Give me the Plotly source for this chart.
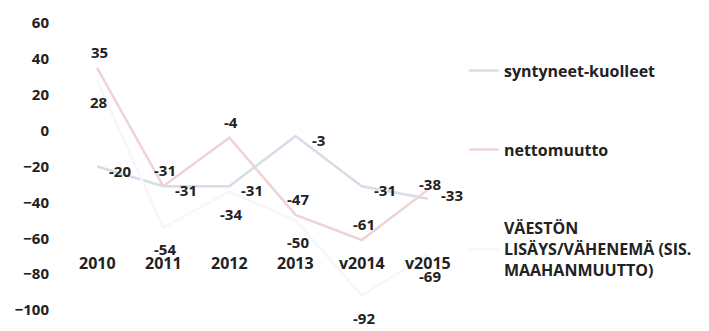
import plotly.graph_objects as go

# Vuodet / kategoriat
years = ["2010", "2011", "2012", "2013", "v2014", "v2015"]

# Sarjat
syntyneet_kuolleet = [-20, -31, -31, -3, -31, -38]
nettomuutto = [35, -31, -4, -47, -61, -33]
vaeston_muutos = [28, -54, -34, -50, -92, -69]

y_ticks = [60, 40, 20, 0, -20, -40, -60, -80, -100]

names = [
    "syntyneet-kuolleet",
    "nettomuutto",
    "VÄESTÖN<br>LISÄYS/VÄHENEMÄ (SIS.<br>MAAHANMUUTTO)",
]
colors = ["#d5dde7", "#efd3d7", "#f8f6f9"]

FONT = "Open Sans"
INK = "#222222"
lbl_font = dict(family=FONT, size=15, color=INK, weight="bold")

series = [syntyneet_kuolleet, nettomuutto, vaeston_muutos]

fig = go.Figure()
for i, (vals, nm, col) in enumerate(zip(series, names, colors)):
    fig.add_trace(go.Scatter(
        x=list(range(len(years))), y=vals, name=nm, legendgroup=f"g{i}",
        mode="lines", line=dict(color=col, width=2.5),
    ))

# Arvoselitteet: syntyneet-kuolleet oikealla, nettomuutto yläpuolella,
# väestön muutos alapuolella; viimeisen vuoden kaksi ensimmäistä vaihtavat puolta
def label_shift(series_idx, point_idx):
    last = point_idx == len(years) - 1
    if series_idx == 0:
        return (2, 15) if last else (23, -4)
    if series_idx == 1:
        return (24, -5) if last else (2, 16)
    return (2, -22)

for s, vals in enumerate(series):
    for p, v in enumerate(vals):
        dx, dy = label_shift(s, p)
        fig.add_annotation(x=p, y=v, xref="x", yref="y", text=str(v),
                           showarrow=False, xshift=dx, yshift=dy,
                           font=lbl_font)

# Vuosiselitteet kuvaajan sisällä
for p, yr in enumerate(years):
    fig.add_annotation(x=p, y=-74, xref="x", yref="y", text=yr,
                       showarrow=False, font=dict(lbl_font, size=16))

fig.update_layout(
    width=709, height=331,
    margin=dict(l=64, r=241, t=17, b=15),
    paper_bgcolor="white", plot_bgcolor="white",
    font=dict(family=FONT, size=15, color=INK),
    showlegend=True,
    legend=dict(
        x=1.0074, y=0.893, xanchor="left", yanchor="top",
        tracegroupgap=55, itemwidth=30,
        font=dict(family=FONT, size=16, color=INK, weight="bold"),
        bgcolor="rgba(0,0,0,0)",
    ),
    xaxis=dict(
        range=[-0.5, 5.5],
        showgrid=False, zeroline=False, showline=False,
        showticklabels=False, ticks="",
    ),
    yaxis=dict(
        range=[-100, 60], tickvals=y_ticks,
        showgrid=False, zeroline=False, showline=False,
        ticks="", ticklabelstandoff=14,
        tickfont=dict(family=FONT, size=15, color=INK, weight="bold"),
    ),
)

fig.write_html("out.html")
